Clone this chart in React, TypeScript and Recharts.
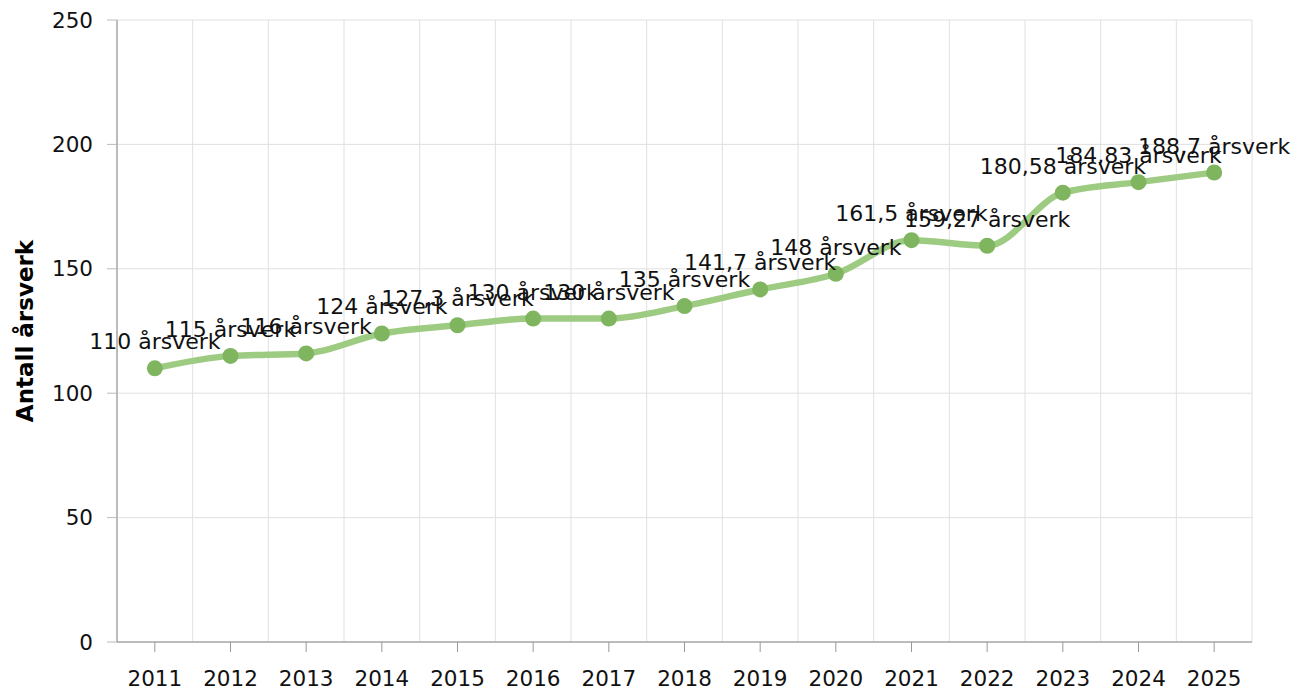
import React from 'react';
import { LineChart, Line, XAxis, YAxis, CartesianGrid, LabelList } from 'recharts';

const years = ['2011', '2012', '2013', '2014', '2015', '2016', '2017', '2018', '2019', '2020', '2021', '2022', '2023', '2024', '2025'];
const arsverk = [110, 115, 116, 124, 127.3, 130, 130, 135, 141.7, 148, 161.5, 159.27, 180.58, 184.83, 188.7];
const yTicks = [0, 50, 100, 150, 200, 250];

const data = years.map((year, i) => ({ year, value: arsverk[i] }));

const font = '"DejaVu Sans", Verdana, sans-serif';
const plotWidth = 1135;
const halfStep = plotWidth / years.length / 2;

// vertical grid sits on category boundaries, not on tick centres
const boundaryLines = ({ offset }: any) => {
  const step = offset.width / years.length;
  return Array.from({ length: years.length + 1 }, (_, i) => offset.left + i * step);
};

const AxisTitle = ({ viewBox }: any) => {
  const x = 17;
  const y = viewBox.y + viewBox.height / 2;
  return (
    <text x={x} y={y} transform={`rotate(-90, ${x}, ${y})`} textAnchor="middle" dominantBaseline="central"
      style={{ fontFamily: font, fontSize: 23, fontWeight: 'bold', fill: '#000' }}>
      Antall årsverk
    </text>
  );
};

export default function App() {
  return (
    <div style={{ width: 1290, height: 683 }}>
      <LineChart width={1290} height={683} data={data} margin={{ top: 12, right: 46, bottom: 0, left: 0 }}>
        <CartesianGrid stroke="#e0e0e0" verticalCoordinatesGenerator={boundaryLines} />
        <XAxis dataKey="year" height={49} tickSize={10} tickMargin={19} stroke="#888"
          padding={{ left: halfStep, right: halfStep }}
          tickLine={{ stroke: '#999' }}
          tick={{ fill: '#111', fontSize: 21.5, fontFamily: font }} />
        <YAxis domain={[0, 250]} ticks={yTicks} width={109} tickSize={10} tickMargin={14} stroke="#888"
          tickLine={{ stroke: '#bbb' }}
          tick={{ fill: '#111', fontSize: 21.5, fontFamily: font }}
          label={<AxisTitle />} />
        <Line type="monotone" dataKey="value" stroke="#9dcb82" strokeWidth={6.5} isAnimationActive={false}
          dot={{ r: 8, fill: '#7fb55f', stroke: '#7fb55f', strokeWidth: 0 }} activeDot={false}>
          <LabelList dataKey="value" position="top" offset={19}
            formatter={(v: any) => `${String(v).replace('.', ',')} årsverk`}
            style={{ fill: '#111', fontSize: 22, fontFamily: font }} />
        </Line>
      </LineChart>
    </div>
  );
}
